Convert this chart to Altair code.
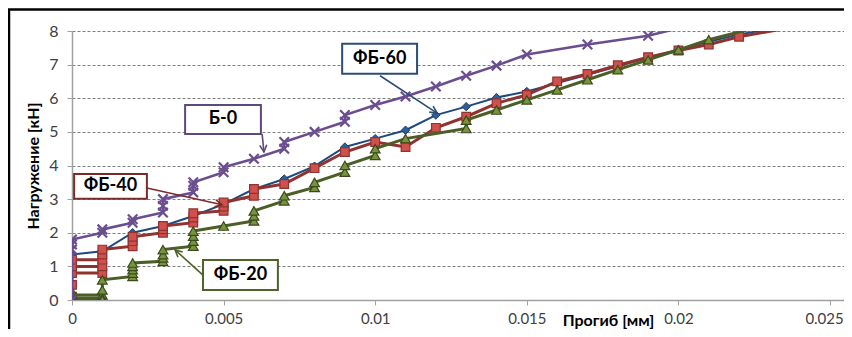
import math
import altair as alt
import pandas as pd

FONT = "Lato, 'Open Sans', sans-serif"

# ---------------- data ----------------
# Б-0 (purple, X markers)
b0_x = [0, 0, 0, 0, 0.001, 0.001, 0.002, 0.002, 0.003, 0.003, 0.003, 0.004, 0.004, 0.004,
        0.005, 0.005, 0.006, 0.007, 0.007, 0.008, 0.009, 0.009, 0.010, 0.011, 0.012, 0.013,
        0.014, 0.015, 0.017, 0.019, 0.021]
b0_y = [0, 1.5, 1.65, 1.8, 2.0, 2.1, 2.3, 2.4, 2.6, 2.8, 3.0, 3.2, 3.4, 3.5,
        3.8, 3.95, 4.2, 4.5, 4.7, 5.0, 5.3, 5.5, 5.8, 6.05, 6.35, 6.67,
        6.97, 7.3, 7.6, 7.86, 8.3]

# ФБ-60 (dark blue, diamonds)
f60_x = [0, 0, 0, 0, 0.001, 0.002, 0.003, 0.004, 0.005, 0.006, 0.007, 0.008, 0.009, 0.010,
         0.011, 0.012, 0.013, 0.014, 0.015, 0.016, 0.017, 0.018, 0.019, 0.020, 0.021, 0.022, 0.024]
f60_y = [0, 0.5, 1.0, 1.35, 1.45, 2.0, 2.2, 2.5, 2.85, 3.3, 3.6, 3.98, 4.55, 4.8,
         5.05, 5.5, 5.75, 6.02, 6.2, 6.45, 6.7, 6.95, 7.2, 7.45, 7.68, 7.9, 8.2]

# ФБ-40 (dark red, squares)
f40_x = [0, 0, 0, 0.001, 0.001, 0, 0, 0.001, 0.001, 0.001, 0.002, 0.002, 0.002, 0.003, 0.003, 0.003,
         0.004, 0.004, 0.004, 0.005, 0.005, 0.005, 0.006, 0.006, 0.007, 0.008, 0.009, 0.010,
         0.011, 0.012, 0.013, 0.014, 0.015, 0.016, 0.017, 0.018, 0.019, 0.020, 0.021, 0.022, 0.024]
f40_y = [0.1, 0.45, 0.8, 0.8, 1.0, 1.0, 1.2, 1.2, 1.35, 1.5, 1.6, 1.75, 1.88, 2.0, 2.1, 2.2,
         2.3, 2.45, 2.58, 2.65, 2.78, 2.9, 3.1, 3.3, 3.45, 3.92, 4.4, 4.7,
         4.55, 5.12, 5.45, 5.85, 6.1, 6.5, 6.72, 6.98, 7.22, 7.42, 7.6, 7.83, 8.15]

# ФБ-20 (dark green, triangles)
f20_x = [0, 0, 0.001, 0.001, 0, 0, 0.001, 0.001, 0.001, 0.002, 0.002, 0.002, 0.002, 0.002,
         0.003, 0.003, 0.003, 0.003, 0.004, 0.004, 0.004, 0.004, 0.005, 0.006, 0.006, 0.006,
         0.007, 0.007, 0.008, 0.008, 0.009, 0.009, 0.010, 0.010, 0.011, 0.013, 0.013, 0.014,
         0.015, 0.016, 0.017, 0.018, 0.019, 0.020, 0.021, 0.023]
f20_y = [0.25, 0.15, 0.15, 0.05, 0.05, 0.0, 0.0, 0.3, 0.6, 0.7, 0.8, 0.9, 1.0, 1.1,
         1.15, 1.25, 1.35, 1.5, 1.6, 1.75, 1.9, 2.05, 2.2, 2.35, 2.5, 2.65,
         2.95, 3.1, 3.35, 3.5, 3.8, 4.0, 4.3, 4.5, 4.8, 5.1, 5.35, 5.65,
         5.95, 6.25, 6.55, 6.85, 7.14, 7.44, 7.74, 8.2]

# axis ticks
x_ticks = [0, 0.005, 0.01, 0.015, 0.02, 0.025]
y_ticks = [0, 1, 2, 3, 4, 5, 6, 7, 8]

# call-out labels (boxes + arrows), in data units
ann_labels = ["ФБ-60", "Б-0", "ФБ-40", "ФБ-20"]
ann_colors = ["#2C4D75", "#5F497A", "#7B2C2A", "#4F6228"]
box_x1 = [0.00891, 0.00373, 0.00007, 0.00432]
box_x2 = [0.01138, 0.00623, 0.00247, 0.00679]
box_y1 = [6.73, 4.94, 3.01, 0.30]
box_y2 = [7.62, 5.80, 3.75, 1.19]
arr_x1 = [0.01016, 0.00627, 0.00247, 0.00432]
arr_y1 = [6.67, 4.94, 3.33, 0.74]
arr_x2 = [0.01204, 0.00633, 0.00495, 0.00340]
arr_y2 = [5.56, 4.40, 2.83, 1.49]

# ---------------- layout ----------------
W, H = 772, 269
X_MAX = 0.02546
Y_MAX = 8
PAD = {"left": 64, "top": 23, "right": 0, "bottom": 29}

xscale = alt.Scale(domain=[0, X_MAX], nice=False, zero=False)
yscale = alt.Scale(domain=[0, Y_MAX], nice=False, zero=False)

xaxis = alt.Axis(values=x_ticks, format="~g", title="Прогиб [мм]",
                 titleFontWeight="bold", titleFontSize=16, titleColor="black",
                 titleX=536, titleY=20, titleAlign="center", titleBaseline="middle",
                 labelFontSize=15, labelColor="#404040", labelPadding=6,
                 labelFlush=False, labelOverlap=False,
                 labelOffset={"condition": {"test": "datum.value >= 0.024", "value": -6},
                              "value": 0},
                 tickSize=5, tickColor="#A0A0A0", domainColor="#A0A0A0",
                 domainWidth=1.5, grid=False)
yaxis = alt.Axis(values=y_ticks, title="Нагружение [кН]",
                 titleFontWeight="bold", titleFontSize=16, titleColor="black",
                 titleX=-39, titleY=H / 2, titleAlign="center", titleBaseline="middle",
                 titleAngle=270,
                 labelFontSize=16, labelColor="#404040", labelPadding=9,
                 tickSize=5, tickColor="#A0A0A0", domainColor="#A0A0A0", domainWidth=1.5,
                 grid=True, gridDash=[3, 2], gridColor="#7F7F7F", gridWidth=1)

xenc = alt.X("x:Q", scale=xscale, axis=xaxis)
yenc = alt.Y("y:Q", scale=yscale, axis=yaxis)


def series(xs, ys, line_color, lw, point_kw):
    d = pd.DataFrame({"x": xs, "y": ys, "i": list(range(len(xs)))})
    base = alt.Chart(d)
    line = base.mark_line(color=line_color, strokeWidth=lw, clip=True).encode(
        x=xenc, y=yenc, order="i:Q")
    pts = base.mark_point(opacity=1, clip=True, **point_kw).encode(x=xenc, y=yenc)
    return [line, pts]


layers = []

# outer frame of the chart (top and left edges; the rest is cut off in the picture)
one_row = pd.DataFrame({"a": [0]})
frame_top = alt.Chart(one_row).mark_rule(color="black", strokeWidth=2.5).encode(
    x=alt.value(-PAD["left"]), x2=alt.value(W + PAD["right"]), y=alt.value(-PAD["top"] + 1.5))
frame_left = alt.Chart(one_row).mark_rule(color="black", strokeWidth=2.5).encode(
    x=alt.value(-PAD["left"] + 1), y=alt.value(-PAD["top"] + 1.5), y2=alt.value(H + PAD["bottom"]))
layers += [frame_top, frame_left]

layers += series(f60_x, f60_y, "#1F497D", 2,
                 dict(shape="diamond", filled=True, fill="#2E5F9A", stroke="#1F3F66",
                      strokeWidth=1, size=70))
layers += series(f40_x, f40_y, "#8E3330", 3,
                 dict(shape="square", filled=True, fill="#D0504C", stroke="#8E3330",
                      strokeWidth=1.2, size=75))
layers += series(f20_x, f20_y, "#4A5E25", 3,
                 dict(shape="triangle-up", filled=True, fill="#77933C", stroke="#3B4A1E",
                      strokeWidth=1.2, size=95))
layers += series(b0_x, b0_y, "#6B4E8F", 2.6,
                 dict(shape="M-1,-1L1,1M-1,1L1,-1", filled=False, stroke="#6B4E8F",
                      strokeWidth=2.2, size=90))

# call-outs
px_per_x = W / X_MAX
px_per_y = H / Y_MAX
angles = []
for a, b, c, d in zip(arr_x1, arr_y1, arr_x2, arr_y2):
    dx = (c - a) * px_per_x
    dy = -(d - b) * px_per_y
    angles.append(math.degrees(math.atan2(dx, -dy)) % 360)

ann = pd.DataFrame({
    "label": ann_labels, "color": ann_colors,
    "bx1": box_x1, "bx2": box_x2, "by1": box_y1, "by2": box_y2,
    "ax1": arr_x1, "ay1": arr_y1, "ax2": arr_x2, "ay2": arr_y2,
    "angle": angles,
})
ann["cx"] = (ann["bx1"] + ann["bx2"]) / 2
ann["cy"] = (ann["by1"] + ann["by2"]) / 2

for _, r in ann.iterrows():
    one = pd.DataFrame([r])
    base = alt.Chart(one)
    arrow = base.transform_calculate(x="datum.ax1", y="datum.ay1").mark_rule(
        color=r["color"], strokeWidth=1.6).encode(
        x=xenc, y=yenc, x2="ax2:Q", y2="ay2:Q")
    head = base.transform_calculate(x="datum.ax2", y="datum.ay2").mark_point(
        shape="M-0.5,1L0,0L0.5,1", filled=False, stroke=r["color"], strokeWidth=1.6,
        size=200, opacity=1, angle=float(r["angle"])).encode(x=xenc, y=yenc)
    box = base.transform_calculate(x="datum.bx1", y="datum.by1").mark_rect(
        fill="white", stroke=r["color"], strokeWidth=2).encode(
        x=xenc, y=yenc, x2="bx2:Q", y2="by2:Q")
    txt = base.transform_calculate(x="datum.cx", y="datum.cy").mark_text(
        font=FONT, fontSize=18, fontWeight="bold", color="black",
        align="center", baseline="middle").encode(x=xenc, y=yenc, text="label:N")
    layers += [arrow, head, box, txt]

chart = alt.layer(*layers).properties(
    width=W, height=H,
    autosize=alt.AutoSizeParams(type="none"),
    padding=PAD,
    background="white",
).configure(font=FONT).configure_view(strokeWidth=0)

chart.save("out.html", embed_options={"renderer": "svg", "actions": False})
